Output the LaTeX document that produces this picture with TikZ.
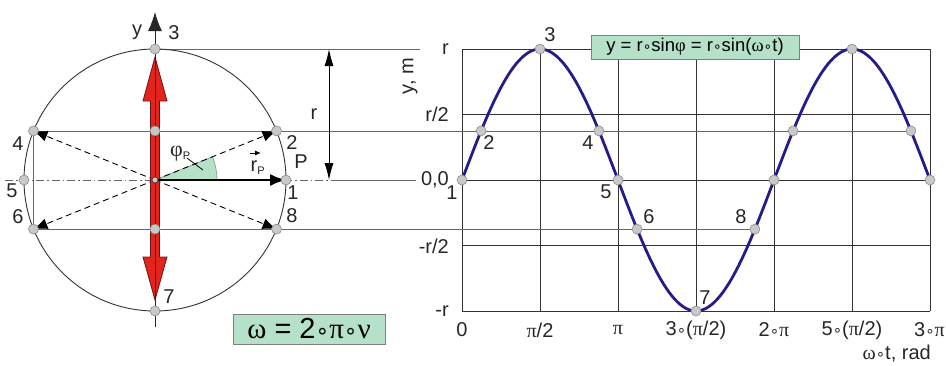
\documentclass[tikz,border=0pt]{standalone}
\usepackage{fontspec}
\usepackage{graphicx}
\setmainfont{Liberation Sans}
\newfontfamily\gr{Liberation Serif}
\newfontfamily\dv{DejaVu Sans}
\usetikzlibrary{arrows.meta,calc}
\definecolor{mint}{RGB}{181,225,201}
\definecolor{navy}{RGB}{36,28,136}
\definecolor{arrred}{RGB}{226,36,28}
\definecolor{darkred}{RGB}{110,20,20}
\definecolor{dotgray}{RGB}{200,200,200}
\newcommand\rg{\scalebox{0.75}{\dv ∘}}
\begin{document}
\begin{tikzpicture}[x=1pt,y=-1pt,
  lab/.style={font=\fontsize{20}{20}\selectfont, inner sep=0pt, text=black!85},
  dotnode/.style={circle, fill=dotgray, draw=gray!90, line width=0.6pt, minimum size=10pt, inner sep=0pt},
  proj/.style={draw=gray!80!black, line width=0.8pt},
  gridl/.style={draw=black!80, line width=0.9pt},
  dasharr/.style={dash pattern=on 6pt off 4pt, line width=0.9pt, -{Latex[length=14pt,width=11pt]}},
  greenbox/.style={draw=gray, line width=1pt, fill=mint, inner sep=0pt}
]
\useasboundingbox (0,0) rectangle (946,365);
% ---------- circle points ----------
\coordinate (O)  at (155,180);
\coordinate (p1) at (286,180);
\coordinate (p2) at (276.5,130.9);
\coordinate (p3) at (155,49);
\coordinate (p4) at (33.5,130.9);
\coordinate (p5) at (24,180);
\coordinate (p6) at (33.5,229.1);
\coordinate (p7) at (155,311);
\coordinate (p8) at (276.5,229.1);
\coordinate (a2) at (155,130.9);
\coordinate (a6) at (155,229.1);
\coordinate (yb) at (155,327);
\coordinate (yt) at (155,12);
% ---------- graph points ----------
\coordinate (g0)   at (462,180);
\coordinate (g22)  at (481.1,130.9);
\coordinate (g90)  at (540,49);
\coordinate (g158) at (598.9,130.9);
\coordinate (g180) at (618,180);
\coordinate (g202) at (637.1,229.1);
\coordinate (g270) at (696,311);
\coordinate (g338) at (754.9,229.1);
\coordinate (g360) at (774,180);
\coordinate (g382) at (793.1,130.9);
\coordinate (g450) at (852,49);
\coordinate (g518) at (910.9,130.9);
\coordinate (g540) at (930,180);
\coordinate (rl) at (420,49);
\coordinate (dd0) at (5,180);
\coordinate (dd1) at (335,180);
\coordinate (dd2) at (416,180);
\coordinate (dimT) at (329,49);
\coordinate (dimB) at (329,180);
% ---------- grid ----------
\foreach \i in {0,...,6} \draw[gridl] (462+78*\i,49) -- (462+78*\i,311);
\foreach \yy in {49,114.5,180,245.5,311} \draw[gridl] (462,\yy) -- (930,\yy);
% ---------- projection lines ----------
\draw[proj] (p3) -- (rl);
\draw[proj] (p4) -- (g518);
\draw[proj] (p6) -- (g338);
\draw[proj] (p4) -- (p6);
\draw[gray!80!black, line width=0.8pt, dash pattern=on 8pt off 3pt on 1.5pt off 3pt] (dd0) -- (dd1);
\draw[proj] (dd1) -- (dd2);
\draw[line width=0.9pt, {Latex[length=17pt,width=9pt]}-{Latex[length=17pt,width=9pt]}] (dimT) -- (dimB);
% ---------- circle ----------
\draw[line width=0.9pt, black!80] (O) circle[radius=131];
% ---------- wedge ----------
\filldraw[fill=mint, draw=mint!60!black, line width=0.5pt] (O) -- ++(62,0) arc[start angle=0, end angle=-22, radius=62] -- cycle;
% ---------- dashed radius arrows ----------
\draw[dasharr] (O) -- (p2);
\draw[dasharr] (O) -- (p4);
\draw[dasharr] (O) -- (p6);
\draw[dasharr] (O) -- (p8);
% ---------- red arrow ----------
\filldraw[fill=arrred, draw=darkred, line width=0.8pt]
  (150.5,101) -- (143,101) -- (155,57) -- (167,101) -- (159.5,101) -- (159.5,257)
  -- (167,257) -- (155,300) -- (143,257) -- (150.5,257) -- cycle;
\draw[line width=0.9pt, black!85, -{Latex[length=19pt,width=14pt]}] (yb) -- (yt);
% ---------- r_P vector ----------
\draw[line width=2pt, -{Latex[length=16pt,width=12pt]}] (O) -- (p1);
% ---------- sine ----------
\draw[navy, line width=2.8pt] plot[domain=0:540, samples=181, smooth] ({462+\x/90*78},{180-131*sin(\x)});
% ---------- dots ----------
\foreach \p in {p1,p2,p3,p4,p5,p6,p7,p8,a2,a6,g0,g22,g90,g158,g180,g202,g270,g338,g360,g382,g450,g518,g540}
  \node[dotnode] (d\p) at (\p) {};
\node[circle, fill=dotgray, draw=black!80, line width=0.6pt, minimum size=6pt, inner sep=0pt] (dO) at (O) {};
% ---------- angle label ----------
\node[lab, anchor=base west] (phi) at (170,156) {{\gr\fontsize{22}{22}\selectfont φ}\textsubscript{\fontsize{11}{11}\selectfont P}};
\coordinate (phA) at (187,158);
\coordinate (phB) at (203,170);
\draw[line width=0.8pt] (phA) -- (phB);
\node[lab, anchor=base west] (rP) at (250.5,171) {r\textsubscript{\fontsize{11}{11}\selectfont P}};
\coordinate (raA) at (250,153);
\coordinate (raB) at (261,153);
\draw[line width=0.9pt, -{Latex[length=6pt,width=5pt]}] (raA) -- (raB);
% ---------- circle labels ----------
\node[lab] (ly) at (137,32) {y};
\node[lab] (l3) at (174,33) {3};
\node[lab] (l2) at (292,143) {2};
\node[lab] (l4) at (18,144) {4};
\node[lab] (l5) at (12,191) {5};
\node[lab] (l6) at (18,217) {6};
\node[lab] (l8) at (292,216) {8};
\node[lab] (l7) at (169,297) {7};
\node[lab] (l1) at (293,193) {1};
\node[lab] (lP) at (301,162) {P};
\node[lab] (lr) at (314,114) {r};
% ---------- graph axis labels ----------
\node[lab, anchor=east] (yr)   at (449,49)  {r};
\node[lab, anchor=east] (yr2)  at (449,114) {r/2};
\node[lab, anchor=east] (y00)  at (449,180) {0,0};
\node[lab, anchor=east] (ymr2) at (449,246) {-r/2};
\node[lab, anchor=east] (ymr)  at (449,311) {-r};
\node[lab, rotate=90] (ym) at (410,76) {y, m};
\node[lab] (x0) at (462,330) {0};
\node[lab] (x1) at (540,330) {{\gr π}/2};
\node[lab] (x2) at (618,330) {{\gr π}};
\node[lab] (x3) at (696,330) {3\rg({\gr π}/2)};
\node[lab] (x4) at (774,330) {2\rg{\gr π}};
\node[lab] (x5) at (852,330) {5\rg({\gr π}/2)};
\node[lab, anchor=east] (x6) at (945,330) {3\rg{\gr π}};
\node[lab, anchor=east] (xl) at (931,354) {{\gr ω}\rg t, rad};
% ---------- graph point labels ----------
\node[lab] (q1) at (452,193) {1};
\node[lab] (q2) at (489,143) {2};
\node[lab] (q3) at (550,35) {3};
\node[lab] (q4) at (588,143) {4};
\node[lab] (q5) at (606,192) {5};
\node[lab] (q6) at (649,217) {6};
\node[lab] (q8) at (741,217) {8};
\node[lab] (q7) at (705,298) {7};
% ---------- formula boxes ----------
\node[greenbox, minimum width=208pt, minimum height=24pt, font=\fontsize{18.5}{18.5}\selectfont] (f1) at (695,47)
  {y = r\rg sin{\gr φ} = r\rg sin({\gr ω}\rg t)};
\node[greenbox, minimum width=152pt, minimum height=30pt, font=\fontsize{29}{29}\selectfont] (f2) at (309,329)
  {{\gr ω} = 2\rg{\gr π}\rg{\gr ν}};
\end{tikzpicture}
\end{document}
